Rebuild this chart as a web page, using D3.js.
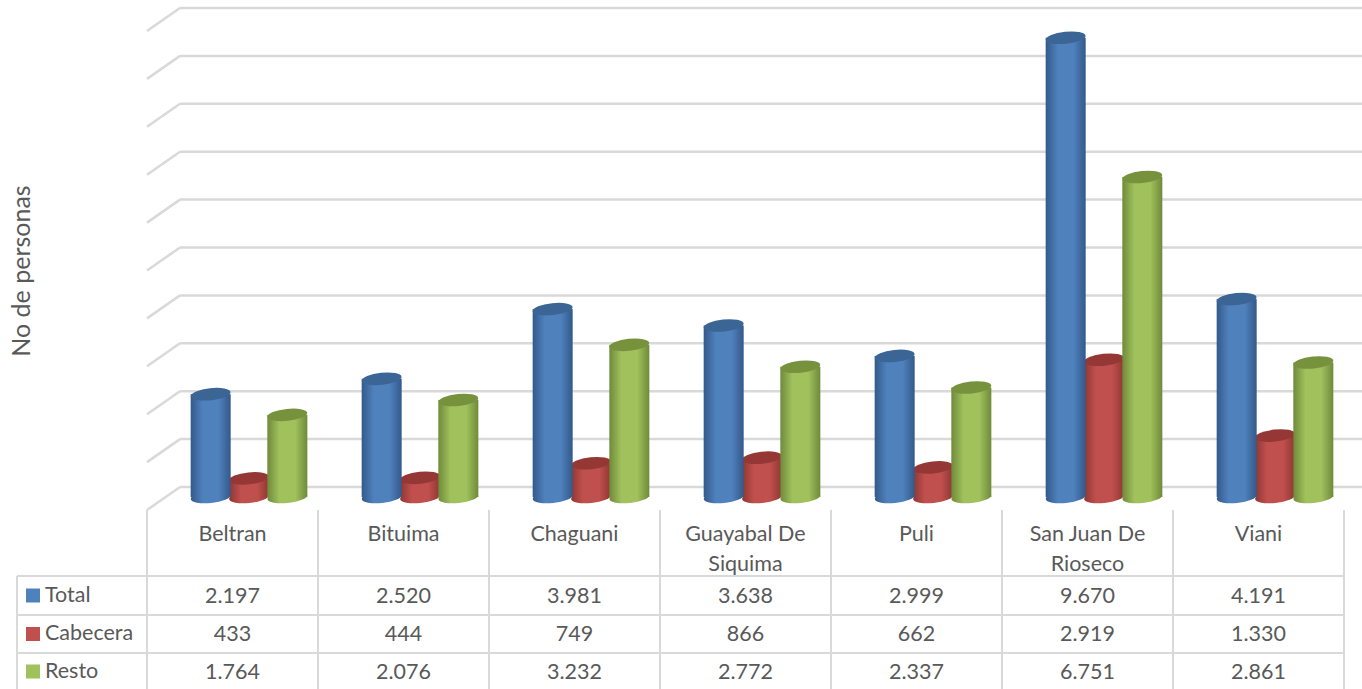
<!DOCTYPE html>
<html lang="en">

<head>
    <meta charset="utf-8" />
    <title>No de personas</title>
    <script src="https://d3js.org/d3.v7.min.js"></script>
    <style>
        html, body { margin: 0; padding: 0; background: #fff; overflow: hidden; }
        svg { display: block; }
        text { font-family: Lato, "Open Sans", sans-serif; fill: #595959; font-size: 21.5px; }
        .grid { stroke: #d9d9d9; stroke-width: 2.5; fill: none; }
        .cell { stroke: #d9d9d9; stroke-width: 2; fill: none; }
    </style>
</head>

<body>
    <script>
        // data
        const categories = ["Beltran", "Bituima", "Chaguani", "Guayabal De Siquima", "Puli", "San Juan De Rioseco", "Viani"];
        const categoryLines = [["Beltran"], ["Bituima"], ["Chaguani"], ["Guayabal De", "Siquima"], ["Puli"], ["San Juan De", "Rioseco"], ["Viani"]];
        const seriesNames = ["Total", "Cabecera", "Resto"];
        const total = [2197, 2520, 3981, 3638, 2999, 9670, 4191];
        const cabecera = [433, 444, 749, 866, 662, 2919, 1330];
        const resto = [1764, 2076, 3232, 2772, 2337, 6751, 2861];
        const seriesValues = [total, cabecera, resto];
        const gridTicks = [0, 1000, 2000, 3000, 4000, 5000, 6000, 7000, 8000, 9000, 10000];

        const colors = [
            { main: "#4f81bd", edge: "#33598a", top: "#3b6594" },
            { main: "#c0504d", edge: "#8f3633", top: "#953735" },
            { main: "#a0c15c", edge: "#6f8a3a", top: "#76923c" }
        ];

        const width = 1362, height = 689;
        const tableLeft = 17, plotLeft = 147, plotRight = 1344;
        const rows = [576, 615, 653, 690];
        const depthX = 33, depthY = 23;

        const svg = d3.select("body").append("svg").attr("width", width).attr("height", height);

        // Scales
        const xscale = d3.scaleBand().domain(categories).range([plotLeft, plotRight]);
        const inner = d3.scaleBand().domain(seriesNames).range([44.5, 159.5]);
        const yback = d3.scaleLinear().domain([0, 10000]).range([487, 8]);
        const ybar = d3.scaleLinear().domain([0, 10000]).range([499, 22]);
        const base = 497;

        // Gradients for the cylinders
        const defs = svg.append("defs");
        colors.forEach((c, i) => {
            const grad = defs.append("linearGradient").attr("id", "cyl" + i);
            [[0, c.edge], [0.3, c.main], [0.7, c.main], [1, c.edge]].forEach((s) => {
                grad.append("stop").attr("offset", s[0]).attr("stop-color", s[1]);
            });
        });

        // Back wall gridlines and left side wall
        const grid = svg.append("g");
        grid.selectAll(".back").data(gridTicks).join("line")
            .attr("class", "grid back")
            .attr("x1", plotLeft + depthX).attr("x2", width)
            .attr("y1", (d) => yback(d)).attr("y2", (d) => yback(d));
        grid.selectAll(".side").data(gridTicks).join("line")
            .attr("class", "grid side")
            .attr("x1", plotLeft + depthX).attr("x2", plotLeft)
            .attr("y1", (d) => yback(d)).attr("y2", (d) => yback(d) + depthY);

        // Cylinders: red first so blue and green sit on top of it
        const rx = 20, ry = 6, tilt = -6;
        [1, 0, 2].forEach((s) => {
            const g = svg.append("g");
            const name = seriesNames[s];
            const cx = (i) => xscale(categories[i]) + inner(name) + inner.bandwidth() / 2;
            seriesValues[s].forEach((v, i) => {
                const top = ybar(v);
                g.append("ellipse")
                    .attr("rx", rx).attr("ry", ry)
                    .attr("transform", `translate(${cx(i)},${base}) rotate(${tilt})`)
                    .attr("fill", `url(#cyl${s})`);
                g.append("rect")
                    .attr("x", cx(i) - rx).attr("width", rx * 2)
                    .attr("y", top).attr("height", base - top)
                    .attr("fill", `url(#cyl${s})`);
                g.append("ellipse")
                    .attr("rx", rx).attr("ry", ry)
                    .attr("transform", `translate(${cx(i)},${top}) rotate(${tilt})`)
                    .attr("fill", colors[s].top);
            });
        });

        // Data table lines
        const table = svg.append("g");
        const colEdges = categories.map((c) => xscale(c)).concat([plotRight]);
        table.selectAll(".v").data(colEdges).join("line")
            .attr("class", "cell v")
            .attr("x1", (d) => d).attr("x2", (d) => d)
            .attr("y1", 510).attr("y2", height);
        table.append("line").attr("class", "cell")
            .attr("x1", tableLeft).attr("x2", tableLeft)
            .attr("y1", rows[0]).attr("y2", height);
        table.selectAll(".h").data(rows).join("line")
            .attr("class", "cell h")
            .attr("x1", tableLeft).attr("x2", plotRight)
            .attr("y1", (d) => d).attr("y2", (d) => d);

        // Category labels
        categoryLines.forEach((lines, i) => {
            svg.append("text")
                .attr("text-anchor", "middle")
                .attr("x", xscale(categories[i]) + xscale.bandwidth() / 2)
                .selectAll("tspan").data(lines).join("tspan")
                .attr("x", xscale(categories[i]) + xscale.bandwidth() / 2)
                .attr("y", (d, j) => 541 + j * 29.5)
                .text((d) => d);
        });

        // Table rows: legend key, series name, values
        const fmt = (v) => String(v).replace(/\B(?=(\d{3})+$)/g, ".");
        seriesNames.forEach((name, s) => {
            const mid = (rows[s] + rows[s + 1]) / 2;
            svg.append("rect")
                .attr("x", 26).attr("y", mid - 7).attr("width", 14).attr("height", 14)
                .attr("fill", colors[s].main);
            svg.append("text").attr("x", 45).attr("y", mid + 6).text(name);
            seriesValues[s].forEach((v, i) => {
                svg.append("text")
                    .attr("text-anchor", "middle")
                    .attr("x", xscale(categories[i]) + xscale.bandwidth() / 2)
                    .attr("y", mid + 7)
                    .text(fmt(v));
            });
        });

        // Y axis title
        svg.append("text")
            .attr("text-anchor", "middle")
            .style("font-size", "25px")
            .attr("transform", "translate(30,271) rotate(-90)")
            .text("No de personas");
    </script>
</body>

</html>
